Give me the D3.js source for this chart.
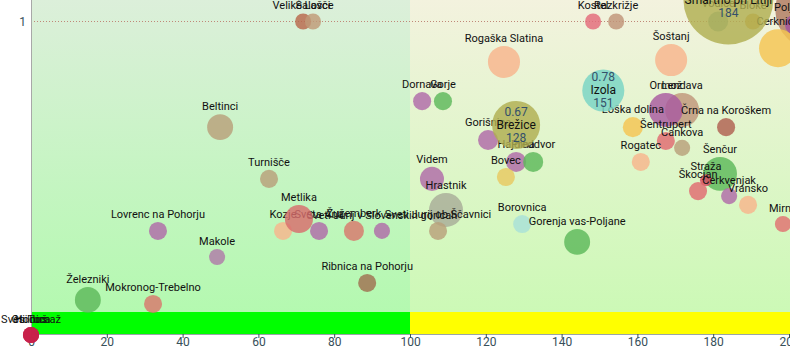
<!DOCTYPE html>
<html><head><meta charset="utf-8">
<script src="https://cdn.jsdelivr.net/npm/d3@7"></script>
<style>body{margin:0;background:#fff}svg{display:block;font-family:Roboto,"Liberation Sans",sans-serif}</style>
</head><body><svg id="c" width="790" height="350"></svg>
<script>
const names = ["Velike Lašče","Šalovci","Kostel","Razkrižje","Vodice","Bloke","Logatec","Poljčane","Cerknica",
"Rogaška Slatina","Šoštanj","Dornava","Gorje","Beltinci","Lendava","Ormož","Loška dolina","Črna na Koroškem",
"Šentrupert","Cankova","Rogatec","Gorišnica","Hajdina","Preddvor","Bovec","Videm","Turnišče","Hrastnik",
"Kozje","Sveta Ana","Sveti Jurij v Slovenskih goricah","Žužemberk","Sveti Jurij ob Ščavnici","Metlika",
"Lovrenc na Pohorju","Makole","Železniki","Mokronog-Trebelno","Ribnica na Pohorju","Borovnica","Gorenja vas-Poljane",
"Šenčur","Straža","Škocjan","Cerkvenjak","Vransko","Mirna","Osilnica","Hodoš","Sveti Tomaž",
"Izola","Brežice","Šmartno pri Litiji"];
const xValues = [71.8,74.4,148.3,154.4,181.3,190.5,206.9,201.6,197.1,
124.8,168.9,103.2,108.7,49.9,171.8,167.5,158.8,183.4,
167.5,171.8,160.9,120.6,128,132.5,125.3,105.8,62.8,109.5,
66.5,76.0,92.6,85.2,107.4,70.7,
33.5,49.1,15.0,32.2,88.7,129.6,144.1,
181.8,178.1,176,184.2,189.2,198.4,0,0,0,
151,128,184];
const yValues = [1,1,1,1,1,1,1.037,0.99,0.915,
0.871,0.877,0.746,0.746,0.663,0.718,0.718,0.663,0.663,
0.619,0.597,0.552,0.622,0.552,0.552,0.504,0.498,0.498,0.399,
0.332,0.332,0.332,0.332,0.332,0.37,
0.332,0.249,0.112,0.099,0.166,0.354,0.297,
0.514,0.494,0.459,0.443,0.415,0.354,0,0,0,
0.78,0.67,1.07];
const population = [2700,2700,2700,2700,4200,2700,66000,4200,15000,
10700,10700,3400,3400,7000,12000,12000,4200,3400,
3400,2700,3400,4200,4200,4200,3400,6000,3400,12000,
3400,3400,2700,4200,3400,8200,
3400,2700,7000,3400,3400,3400,7000,
12000,1500,3400,2700,3400,2700,2700,2700,2700,
18400,24000,84000];
const colors = ["#b8684c","#c09a78","#e36a7a","#c09478","#80b0a8","#d8a040","#b07a60","#a050a0","#f5c452",
"#f8b48c","#f8b48c","#b06aa8","#5db85a","#b8a07a","#c0967a","#a85aa0","#f5c452","#b06050",
"#e06a70","#b8a07a","#f8b48c","#b06aa8","#b06aa8","#5db85a","#e8c860","#b06aa8","#b8a07a","#a8ac98",
"#f8b48c","#b06aa8","#b06aa8","#d8786c","#b8a07a","#d86c6c",
"#b06aa8","#b07aa8","#5db85a","#d8786c","#a07050","#a8e0d8","#5db85a",
"#5db85a","#d84860","#e06a70","#b06aa8","#f8b48c","#e07070","#c8204a","#c8204a","#c8204a",
"#78d4c4","#b0ae50","#b0ae50"];
const xTicks = [0,20,40,60,80,100,120,140,160,180,200];
const yTicks = [1];

const svg = d3.select("#c");
const x = d3.scaleLinear().domain([0,200]).range([31,789]);
const y = d3.scaleLinear().domain([0,1]).range([335,21.5]);
const r = d3.scaleSqrt().domain([0,90000]).range([0,46.5]);
const plotBottom = 334, bandTop = 312;

const defs = svg.append("defs");
function grad(id, c1, c2){
  const g = defs.append("linearGradient").attr("id",id).attr("x1",0).attr("y1",0).attr("x2",0).attr("y2",1);
  g.append("stop").attr("offset","0%").attr("stop-color",c1);
  g.append("stop").attr("offset","100%").attr("stop-color",c2);
}
grad("gl","#dcefda","#b4f9b0");
grad("gr","#f3f2de","#ccf9b6");

svg.append("rect").attr("x",x(0)).attr("y",0).attr("width",x(100)-x(0)).attr("height",bandTop).attr("fill","url(#gl)");
svg.append("rect").attr("x",x(100)).attr("y",0).attr("width",790-x(100)).attr("height",bandTop).attr("fill","url(#gr)");
svg.append("rect").attr("x",x(0)).attr("y",bandTop).attr("width",x(100)-x(0)).attr("height",plotBottom-bandTop).attr("fill","#00ff00");
svg.append("rect").attr("x",x(100)).attr("y",bandTop).attr("width",790-x(100)).attr("height",plotBottom-bandTop).attr("fill","#ffff00");

// y=1 dotted reference
svg.selectAll("line.ref").data(yTicks).join("line").attr("class","ref")
  .attr("x1",x(0)).attr("x2",790).attr("y1",d=>y(d)).attr("y2",d=>y(d))
  .attr("stroke","#c08878").attr("stroke-width",1).attr("stroke-dasharray","1,2");
svg.selectAll("text.yt").data(yTicks).join("text").attr("class","yt")
  .attr("x",26).attr("y",d=>y(d)+4).attr("text-anchor","end")
  .attr("font-size",12).attr("fill","#37505a").text(d=>d);

// axes
const xAxis = svg.append("g").attr("transform",`translate(0,${plotBottom})`)
  .call(d3.axisBottom(x).tickValues(xTicks).tickSize(4).tickSizeOuter(0));
xAxis.select(".domain").attr("stroke","#9aa4a8").attr("d",`M${x(0)},0.5H790`);
xAxis.selectAll(".tick line").attr("stroke","#37505a");
xAxis.selectAll(".tick text").attr("font-size",12).attr("fill","#37505a").attr("y",3.5).attr("dy","0.71em").attr("font-family","Roboto,sans-serif");
svg.append("line").attr("x1",x(0)+0.5).attr("x2",x(0)+0.5).attr("y1",0).attr("y2",plotBottom).attr("stroke","#a8a8a8");

const data = names.map((n,i)=>({name:n,x:xValues[i],y:yValues[i],p:population[i],c:colors[i]}));
const big = d => d.p > 17000 && d.x <= 200;
const g = svg.append("g");
const nodes = g.selectAll("g.b").data(data).join("g").attr("class","b")
  .attr("transform",d=>`translate(${x(d.x)},${y(d.y)})`);
nodes.append("circle").attr("r",d=>r(d.p)).attr("fill",d=>d.c).attr("fill-opacity",0.82);
nodes.filter(d=>!big(d)).append("text").attr("y",d=>-r(d.p)-4).attr("text-anchor","middle")
  .attr("font-size",11).attr("fill","#111").text(d=>d.name);
const bg = nodes.filter(big);
bg.append("text").attr("y",-9).attr("text-anchor","middle").attr("font-size",12).attr("fill","#34506a").text(d=>d3.format(".2f")(d.y));
bg.append("text").attr("y",4).attr("text-anchor","middle").attr("font-size",12).attr("fill","#111").text(d=>d.name);
bg.append("text").attr("y",17).attr("text-anchor","middle").attr("font-size",12).attr("fill","#34506a").text(d=>d3.format("d")(d.x));
</script></body></html>
